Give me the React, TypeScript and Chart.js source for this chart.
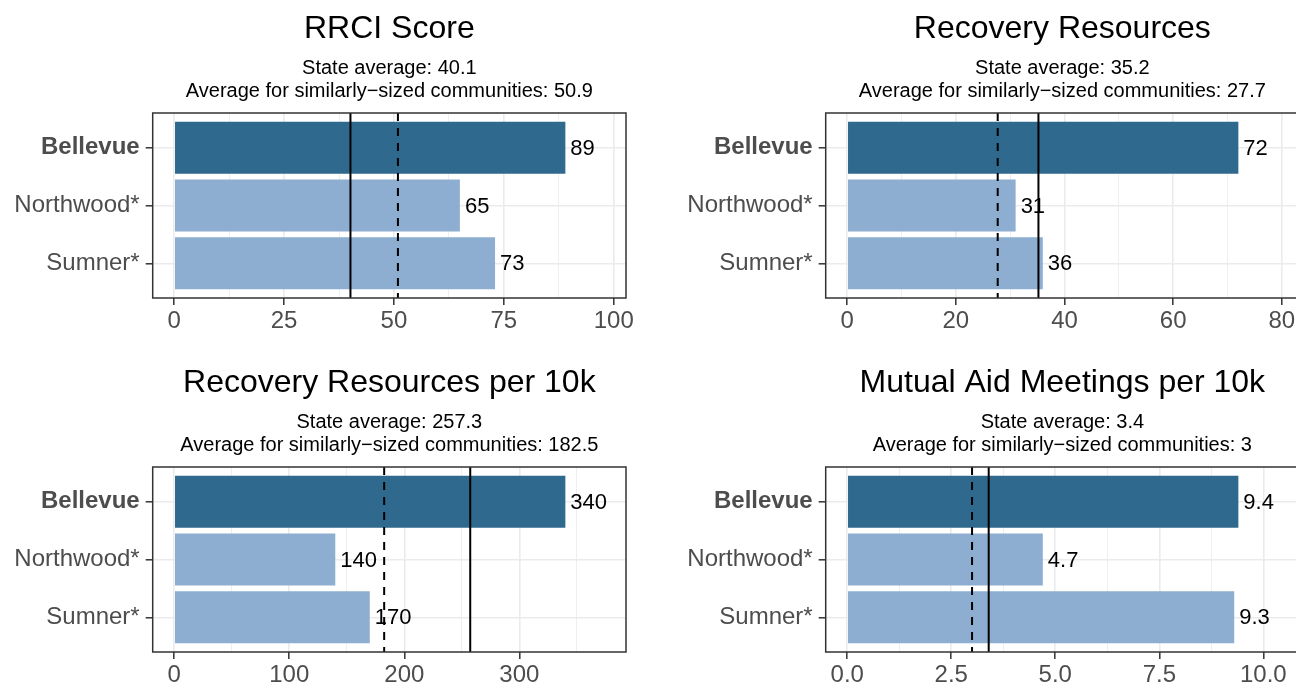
import React, { useEffect, useRef } from "react";
import { Chart, registerables } from "chart.js";

Chart.register(...registerables);

// ---- data ----
const communities = ["Bellevue", "Northwood*", "Sumner*"];
const highlightCommunity = "Bellevue";

const panelTitles = [
  "RRCI Score",
  "Recovery Resources",
  "Recovery Resources per 10k",
  "Mutual Aid Meetings per 10k",
];

const rrciValues = [89, 65, 73];
const resourcesValues = [72, 31, 36];
const resourcesPer10kValues = [340, 140, 170];
const meetingsPer10kValues = [9.4, 4.7, 9.3];

const stateAverages = [40.1, 35.2, 257.3, 3.4];
const similarAverages = [50.9, 27.7, 182.5, 3];

const rrciTicks = [0, 25, 50, 75, 100];
const rrciMinorTicks = [12.5, 37.5, 62.5, 87.5];
const resourcesTicks = [0, 20, 40, 60, 80];
const resourcesMinorTicks = [10, 30, 50, 70];
const per10kTicks = [0, 100, 200, 300];
const per10kMinorTicks = [50, 150, 250, 350];
const meetingsTicks = [0, 2.5, 5, 7.5, 10];
const meetingsMinorTicks = [1.25, 3.75, 6.25, 8.75];
const tickDecimals = [0, 0, 0, 1];

// ---- styling ----
const FONT = "'Liberation Sans', Arial, Helvetica, sans-serif";
const DARK_BAR = "#2F6A8E";
const LIGHT_BAR = "#8DAED0";
const GRID = "#EBEBEB";
const BORDER = "#333333";
const TICK_TEXT = "#4D4D4D";

const CANVAS_W = 673;
const CANVAS_H = 354;
const PLOT_LEFT = 152.7;
const PLOT_RIGHT_PAD = 47;
const PLOT_TOP = 113;
const PLOT_BOTTOM = 298;

type Panel = {
  title: string;
  values: number[];
  state: number;
  similar: number;
  major: number[];
  minor: number[];
  decimals: number;
  left: number;
  top: number;
};

const panels: Panel[] = [
  { title: panelTitles[0], values: rrciValues, state: stateAverages[0], similar: similarAverages[0], major: rrciTicks, minor: rrciMinorTicks, decimals: tickDecimals[0], left: 0, top: 0 },
  { title: panelTitles[1], values: resourcesValues, state: stateAverages[1], similar: similarAverages[1], major: resourcesTicks, minor: resourcesMinorTicks, decimals: tickDecimals[1], left: 673, top: 0 },
  { title: panelTitles[2], values: resourcesPer10kValues, state: stateAverages[2], similar: similarAverages[2], major: per10kTicks, minor: per10kMinorTicks, decimals: tickDecimals[2], left: 0, top: 354 },
  { title: panelTitles[3], values: meetingsPer10kValues, state: stateAverages[3], similar: similarAverages[3], major: meetingsTicks, minor: meetingsMinorTicks, decimals: tickDecimals[3], left: 673, top: 354 },
];

const decorPlugin = {
  id: "panelDecor",
  afterDatasetsDraw(chart: any) {
    const opts = chart.options.plugins.panelDecor;
    const { ctx, chartArea: a, scales } = chart;
    const x = scales.x;
    ctx.save();
    // value labels
    ctx.font = `22px ${FONT}`;
    ctx.fillStyle = "#000";
    ctx.textAlign = "left";
    ctx.textBaseline = "middle";
    const meta = chart.getDatasetMeta(0);
    meta.data.forEach((bar: any, i: number) => {
      ctx.fillText(String(opts.values[i]), bar.x + 5, bar.y + 1);
    });
    // reference lines
    ctx.strokeStyle = "#000";
    ctx.lineWidth = 2;
    const sx = x.getPixelForValue(opts.state);
    ctx.beginPath();
    ctx.moveTo(sx, a.top);
    ctx.lineTo(sx, a.bottom);
    ctx.stroke();
    const dx = x.getPixelForValue(opts.similar);
    ctx.setLineDash([8, 7]);
    ctx.beginPath();
    ctx.moveTo(dx, a.top);
    ctx.lineTo(dx, a.bottom);
    ctx.stroke();
    ctx.setLineDash([]);
    // panel border
    ctx.strokeStyle = BORDER;
    ctx.lineWidth = 1.5;
    ctx.strokeRect(a.left, a.top, a.right - a.left, a.bottom - a.top);
    // titles
    const cx = (a.left + a.right) / 2;
    ctx.fillStyle = "#000";
    ctx.textAlign = "center";
    ctx.textBaseline = "alphabetic";
    ctx.font = `32px ${FONT}`;
    ctx.fillText(opts.title, cx, 38);
    ctx.font = `20px ${FONT}`;
    ctx.fillText(`State average: ${opts.state}`, cx, 74);
    ctx.fillText(`Average for similarly\u2212sized communities: ${opts.similar}`, cx, 96.5);
    ctx.restore();
  },
};

function PanelChart({ panel }: { panel: Panel }) {
  const ref = useRef<HTMLCanvasElement | null>(null);
  useEffect(() => {
    if (!ref.current) return;
    const maxVal = Math.max(...panel.values) * 1.1;
    const xMin = -0.05 * maxVal;
    const xMax = maxVal * 1.05;
    const allTicks = [...panel.major, ...panel.minor]
      .filter((v) => v >= xMin && v <= xMax)
      .sort((p, q) => p - q);
    const isMajor = (v: number) => panel.major.includes(v);
    const chart = new Chart(ref.current, {
      type: "bar",
      data: {
        datasets: [
          {
            data: panel.values.map((v, i) => ({ x: v, y: i + 1 })),
            backgroundColor: communities.map((c) => (c === highlightCommunity ? DARK_BAR : LIGHT_BAR)),
            borderWidth: 0,
            borderSkipped: false,
            inflateAmount: 0,
            categoryPercentage: 0.9,
            barPercentage: 1,
          } as any,
        ],
      },
      options: {
        responsive: false,
        animation: false,
        devicePixelRatio: 1,
        indexAxis: "y",
        layout: { padding: { left: 0, right: PLOT_RIGHT_PAD, top: PLOT_TOP, bottom: 0 } },
        plugins: {
          legend: { display: false },
          tooltip: { enabled: false },
          title: { display: false },
          panelDecor: {
            title: panel.title,
            values: panel.values,
            state: panel.state,
            similar: panel.similar,
          },
        } as any,
        scales: {
          x: {
            type: "linear",
            min: xMin,
            max: xMax,
            offset: false,
            afterBuildTicks: (s: any) => {
              s.ticks = allTicks.map((v) => ({ value: v }));
            },
            afterFit: (s: any) => {
              s.height = CANVAS_H - PLOT_BOTTOM;
            },
            border: { display: false },
            grid: {
              offset: false,
              color: GRID,
              lineWidth: (c: any) => (c.tick && isMajor(c.tick.value) ? 1.6 : 0.8),
              tickColor: (c: any) => (c.tick && isMajor(c.tick.value) ? BORDER : "rgba(0,0,0,0)"),
              tickLength: 7,
              tickWidth: 1.5,
              drawTicks: true,
            },
            ticks: {
              autoSkip: false,
              maxRotation: 0,
              padding: 2,
              color: TICK_TEXT,
              font: { family: FONT, size: 24 },
              callback: (v: any) => (isMajor(Number(v)) ? Number(v).toFixed(panel.decimals) : ""),
            },
          },
          y: {
            type: "linear",
            min: 0.4,
            max: 3.6,
            reverse: true,
            offset: false,
            afterBuildTicks: (s: any) => {
              s.ticks = communities.map((_, i) => ({ value: i + 1 }));
            },
            afterFit: (s: any) => {
              s.width = PLOT_LEFT;
            },
            border: { display: false },
            grid: {
              offset: false,
              color: GRID,
              lineWidth: 1.6,
              tickColor: BORDER,
              tickLength: 7,
              tickWidth: 1.5,
            },
            ticks: {
              autoSkip: false,
              padding: 6,
              color: TICK_TEXT,
              font: (c: any) => ({
                family: FONT,
                size: 24,
                weight: c.tick && communities[c.tick.value - 1] === highlightCommunity ? "bold" : "normal",
              }),
              callback: (v: any) => communities[Number(v) - 1] ?? "",
            },
          },
        },
      } as any,
      plugins: [decorPlugin as any],
    });
    return () => chart.destroy();
  }, [panel]);
  return (
    <canvas
      ref={ref}
      width={CANVAS_W}
      height={CANVAS_H}
      style={{ position: "absolute", left: panel.left, top: panel.top, width: CANVAS_W, height: CANVAS_H }}
    />
  );
}

export default function App() {
  return (
    <div
      style={{
        position: "fixed",
        left: 0,
        top: 0,
        width: 1296,
        height: 685,
        overflow: "hidden",
        background: "#fff",
      }}
    >
      {panels.map((p, i) => (
        <PanelChart key={i} panel={p} />
      ))}
    </div>
  );
}
